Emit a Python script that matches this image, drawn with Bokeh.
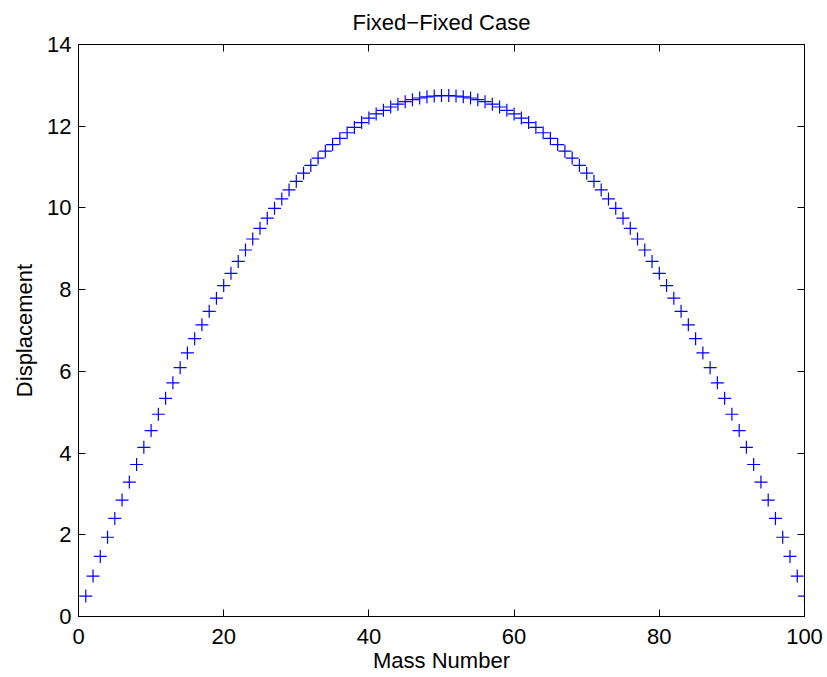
from bokeh.plotting import figure
from bokeh.models import LinearAxis, Range1d, FixedTicker
from bokeh.embed import file_html
from bokeh.resources import INLINE

mass_number = list(range(1, 101))
displacement = [
    0.50, 0.99, 1.47, 1.94, 2.40, 2.85, 3.29, 3.72, 4.14, 4.55,
    4.95, 5.34, 5.72, 6.09, 6.45, 6.80, 7.14, 7.47, 7.79, 8.10,
    8.40, 8.69, 8.97, 9.24, 9.50, 9.75, 9.99, 10.22, 10.44, 10.65,
    10.85, 11.04, 11.22, 11.39, 11.55, 11.70, 11.84, 11.97, 12.09, 12.20,
    12.30, 12.39, 12.47, 12.54, 12.60, 12.65, 12.69, 12.72, 12.74, 12.75,
    12.75, 12.74, 12.72, 12.69, 12.65, 12.60, 12.54, 12.47, 12.39, 12.30,
    12.20, 12.09, 11.97, 11.84, 11.70, 11.55, 11.39, 11.22, 11.04, 10.85,
    10.65, 10.44, 10.22, 9.99, 9.75, 9.50, 9.24, 8.97, 8.69, 8.40,
    8.10, 7.79, 7.47, 7.14, 6.80, 6.45, 6.09, 5.72, 5.34, 4.95,
    4.55, 4.14, 3.72, 3.29, 2.85, 2.40, 1.94, 1.47, 0.99, 0.50,
]
x_ticks = [0, 20, 40, 60, 80, 100]
y_ticks = [0, 2, 4, 6, 8, 10, 12, 14]

FONT = "Liberation Sans"
FS = "22px"

p = figure(
    frame_width=726, frame_height=572,
    min_border_left=78, min_border_right=23, min_border_top=44, min_border_bottom=55,
    x_range=Range1d(0, 100), y_range=Range1d(0, 14),
    output_backend="svg", toolbar_location=None,
    title="Fixed\u2212Fixed Case",
    x_axis_label="Mass Number", y_axis_label="Displacement",
)
p.background_fill_color = "white"
p.border_fill_color = "white"
p.outline_line_color = "black"
p.outline_line_width = 1
p.xgrid.visible = False
p.ygrid.visible = False

p.title.align = "center"
p.title.vertical_align = "top"
p.title.text_font = FONT
p.title.text_font_size = FS
p.title.text_font_style = "normal"
p.title.text_color = "black"
p.title.standoff = 16

for ax in (p.xaxis[0], p.yaxis[0]):
    ax.axis_label_text_font = FONT
    ax.axis_label_text_font_size = FS
    ax.axis_label_text_font_style = "normal"
    ax.axis_label_text_color = "black"
    ax.major_label_text_font = FONT
    ax.major_label_text_font_size = FS
    ax.major_label_text_color = "black"
    ax.major_tick_in = 7
    ax.major_tick_out = 0
    ax.minor_tick_in = 0
    ax.minor_tick_out = 0
    ax.axis_line_color = "black"
    ax.major_tick_line_color = "black"

p.xaxis[0].ticker = FixedTicker(ticks=x_ticks)
p.yaxis[0].ticker = FixedTicker(ticks=y_ticks)
p.xaxis[0].major_label_standoff = 12
p.xaxis[0].axis_label_standoff = 1
p.yaxis[0].major_label_standoff = 7
p.yaxis[0].axis_label_standoff = 7

top_axis = LinearAxis(ticker=FixedTicker(ticks=x_ticks),
                      major_label_overrides={float(t): "" for t in x_ticks},
                      major_tick_in=7, major_tick_out=0, minor_tick_in=0, minor_tick_out=0,
                      major_label_standoff=0)
right_axis = LinearAxis(ticker=FixedTicker(ticks=y_ticks),
                        major_label_overrides={float(t): "" for t in y_ticks},
                        major_tick_in=7, major_tick_out=0, minor_tick_in=0, minor_tick_out=0,
                        major_label_standoff=0)
p.add_layout(top_axis, "above")
p.add_layout(right_axis, "right")

p.scatter(mass_number, displacement, marker="cross", size=13,
          line_color="#0000ff", line_width=1.2)

open("out.html", "w").write(file_html(p, INLINE))
